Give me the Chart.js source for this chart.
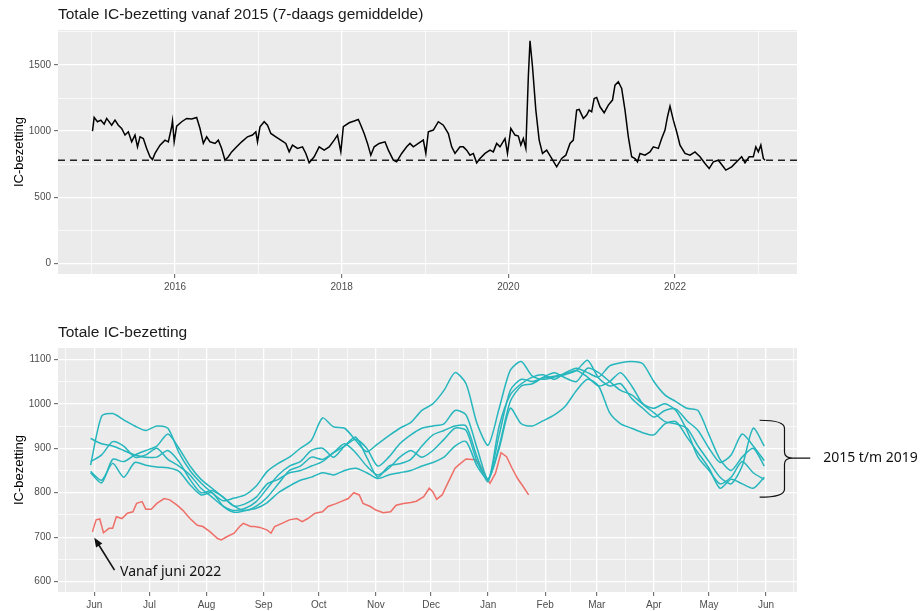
<!DOCTYPE html>
<html>
<head>
<meta charset="utf-8">
<script src="https://cdn.jsdelivr.net/npm/chart.js@4.4.1/dist/chart.umd.min.js"></script>
<style>
  html, body { margin: 0; padding: 0; background: #fff; }
  #wrap { position: relative; width: 923px; height: 611px; overflow: hidden; }
  canvas { position: absolute; left: 0; }
  #histChart { top: 0; }
  #seasonChart { top: 305px; }
</style>
</head>
<body>
<div id="wrap">
  <canvas id="histChart" width="923" height="300"></canvas>
  <canvas id="seasonChart" width="923" height="306"></canvas>
</div>
<script>
// ---------- top chart: 7-day average since 2015 (x in decimal years) ----------
const histYears = [
  2015.01,2015.03,2015.07,2015.11,2015.15,2015.18,2015.24,2015.28,2015.32,2015.36,
  2015.40,2015.44,2015.48,2015.52,2015.55,2015.58,2015.62,2015.66,2015.70,2015.73,
  2015.76,2015.82,2015.88,2015.92,2015.96,2015.97,2015.99,2016.02,2016.08,2016.14,
  2016.20,2016.26,2016.30,2016.34,2016.38,2016.42,2016.48,2016.52,2016.56,2016.60,
  2016.64,2016.68,2016.74,2016.80,2016.87,2016.93,2016.97,2016.99,2017.02,2017.07,
  2017.11,2017.15,2017.21,2017.27,2017.33,2017.37,2017.41,2017.47,2017.53,2017.57,
  2017.61,2017.67,2017.73,2017.79,2017.85,2017.91,2017.95,2017.99,2018.02,2018.09,
  2018.15,2018.20,2018.23,2018.27,2018.31,2018.35,2018.39,2018.45,2018.52,2018.56,
  2018.62,2018.66,2018.72,2018.78,2018.82,2018.86,2018.92,2018.98,2019.01,2019.04,
  2019.10,2019.16,2019.22,2019.28,2019.32,2019.36,2019.42,
  2019.46,2019.50,2019.54,2019.58,2019.62,2019.66,2019.72,2019.78,2019.82,2019.86,
  2019.90,2019.96,2019.99,2020.03,2020.08,2020.12,2020.15,2020.18,2020.21,2020.24,
  2020.26,2020.29,2020.33,2020.37,2020.41,2020.46,2020.52,2020.58,2020.64,2020.69,
  2020.74,2020.78,2020.82,2020.85,2020.90,2020.94,2020.97,2021.00,2021.03,2021.06,
  2021.10,2021.15,2021.20,2021.25,2021.28,2021.32,2021.36,2021.40,2021.44,2021.48,
  2021.52,2021.55,2021.58,2021.64,2021.70,2021.74,2021.80,2021.84,2021.88,2021.91,
  2021.94,2021.98,2022.02,2022.06,2022.12,2022.18,2022.24,2022.30,2022.36,2022.41,
  2022.46,2022.52,2022.58,2022.61,2022.68,2022.74,2022.80,2022.84,2022.89,2022.94,
  2022.97,2023.00,2023.03,2023.06,2023.08
];
const histValues = [
  1000,1103,1071,1083,1053,1096,1045,1083,1045,1020,
  970,995,919,970,881,957,944,869,806,785,
  831,894,932,919,1033,1078,919,1038,1071,1096,
  1091,1103,1020,907,957,919,907,932,869,780,
  806,843,881,919,957,970,995,919,1033,1071,
  1045,982,957,932,907,843,894,869,881,831,
  760,806,881,856,881,932,970,843,1033,1063,
  1076,1088,1045,982,907,818,881,907,919,856,
  780,768,831,881,907,881,907,932,831,995,
  1008,1071,1045,982,881,831,881,
  881,856,818,831,760,793,831,856,843,907,
  881,944,831,1020,970,962,894,944,869,1412,
  1684,1487,1159,932,831,856,793,730,793,818,
  907,932,1159,1164,1096,1121,1159,1146,1247,1255,
  1184,1139,1197,1235,1348,1374,1323,1159,957,806,
  793,768,831,818,843,881,869,944,1008,1109,
  1189,1083,995,894,831,818,843,806,755,717,
  768,780,730,705,730,768,806,760,806,806,
  881,843,894,793,780
];
const baseline = 780;
const yearTicks = [2016, 2018, 2020, 2022];
const yearMinor = [2015, 2017, 2019, 2021, 2023];
const histYTicks = [0, 500, 1000, 1500];
const histYMinor = [250, 750, 1250, 1750];

// ---------- bottom chart: per season, x = days after 1 June ----------
const seasonDays = [
  -2,4,10,16,22,28,34,40,46,52,58,64,70,76,82,88,94,100,106,112,
  118,124,130,136,142,148,154,160,166,172,178,184,190,196,202,208,214,220,226,232,
  238,244,250,256,262,268,274,280,286,292,298,304,310,316,322,328,334,340,346,352,
  358,364
];
const seasonA = [
  862,972,978,964,950,940,950,945,890,850,822,800,782,788,795,815,848,866,880,900,
  918,968,948,945,918,892,910,928,945,958,985,1000,1030,1070,1045,955,907,990,1075,1095,
  1062,1055,1060,1066,1075,1098,1058,1040,1045,1012,990,970,985,988,962,940,900,868,885,932,
  905,872
];
const seasonB = [
  845,822,875,870,885,895,905,932,900,860,830,810,790,770,760,770,790,820,850,860,
  880,875,890,905,920,900,860,880,910,930,945,950,955,985,975,900,830,930,1030,1055,
  1050,1058,1062,1068,1075,1060,1040,1050,1070,1040,1000,980,960,955,945,905,870,835,820,860,
  945,905
];
const seasonC = [
  870,885,915,905,880,885,900,875,860,840,810,790,770,760,765,780,810,840,860,870,
  895,900,880,905,925,880,835,860,865,875,905,930,940,950,950,880,825,950,1020,1045,
  1060,1065,1055,1070,1080,1070,1060,1085,1092,1095,1090,1050,1020,1005,990,985,930,875,850,880,
  900,860
];
const seasonD = [
  922,910,905,895,885,880,880,895,870,830,800,805,790,770,775,790,820,830,845,850,
  860,870,890,910,890,860,840,855,880,895,880,895,920,945,940,870,830,905,1005,1040,
  1045,1060,1070,1058,1050,1080,1070,1050,1030,1020,1000,990,1000,985,940,880,850,820,835,870,
  845,830
];
const seasonE = [
  848,828,866,835,868,862,858,856,848,818,795,800,770,756,760,765,778,800,815,828,
  835,845,840,850,855,845,832,840,845,850,860,868,880,905,915,860,830,900,990,955,
  950,962,975,995,1030,1055,1040,980,955,945,935,930,955,960,925,890,855,810,830,820,
  810,835
];
const recentDays = [
  -1,1,3,5,8,10,12,15,18,21,23,26,28,31,34,38,41,45,48,52,
  56,59,63,67,69,72,76,79,81,85,87,90,94,96,98,102,106,110,113,116,
  120,124,127,131,134,138,141,144,146,150,153,157,161,164,168,172,175,179,182,184,
  186,189,192,196,199,202,207,210,212,215,218,221,224,227,230,233,236
];
const recentValues = [
  712,739,741,710,720,720,746,742,754,757,776,780,763,763,776,787,784,772,761,742,
  727,724,712,697,694,701,709,724,731,724,724,722,716,709,724,731,739,742,735,742,
  754,757,769,775,780,787,800,795,776,769,761,755,757,772,776,778,781,791,810,802,
  785,795,821,855,866,876,874,859,840,821,844,890,881,855,832,814,795
];
const monthTicks = [0,30,61,92,122,153,183,214,245,273,304,334,365];
const monthLabels = ['Jun','Jul','Aug','Sep','Oct','Nov','Dec','Jan','Feb','Mar','Apr','May','Jun'];
const monthMinor = [-15.5,15,45.5,76.5,107,137.5,168,198.5,229.5,259,288.5,319,349.5,380];
const seasonYTicks = [600, 700, 800, 900, 1000, 1100];
const seasonYMinor = [650, 750, 850, 950, 1050];

const FONT = '"Liberation Sans", Arial, sans-serif';
const TEAL = '#26B6BD';
const RED = '#EE6F67';

// grey ggplot-like panel behind the plot area
const panelBg = {
  id: 'panelBg',
  beforeDraw(chart) {
    const { ctx, chartArea: a } = chart;
    ctx.save();
    ctx.fillStyle = '#EBEBEB';
    ctx.fillRect(a.left, a.top, a.width, a.height);
    ctx.restore();
  }
};

// axis with major (labelled) and minor (thin grid only) ticks
function ggAxis(major, minor, labelFn, extra) {
  const all = major.concat(minor).sort((a, b) => a - b);
  const isMajor = c => c.tick && major.includes(c.tick.value);
  return Object.assign({
    type: 'linear',
    afterBuildTicks: s => { s.ticks = all.map(v => ({ value: v })); },
    ticks: {
      autoSkip: false, maxRotation: 0, padding: 3,
      color: '#4D4D4D', font: { family: FONT, size: 10 },
      callback: v => major.includes(v) ? labelFn(v) : ''
    },
    grid: {
      color: '#FFFFFF',
      lineWidth: c => isMajor(c) ? 1.3 : 0.7,
      tickColor: c => isMajor(c) ? '#333333' : 'rgba(0,0,0,0)',
      tickLength: 4,
      tickWidth: 0.8
    },
    border: { display: false }
  }, extra);
}

function yTitle() {
  return { display: true, text: 'IC-bezetting', color: '#000', font: { family: FONT, size: 13 }, padding: { top: 12, bottom: 0 } };
}

function plotTitle(text) {
  return {
    display: true, text, align: 'start', fullSize: false, color: '#1A1A1A',
    font: { family: FONT, size: 15.5, weight: 'normal', lineHeight: '18px' },
    padding: { top: 6, bottom: 6 }
  };
}

const toPoints = (xs, ys) => xs.map((x, i) => ({ x, y: ys[i] }));

// ---------- top chart ----------
const HIST_X_MIN = 2014.596, HIST_X_MAX = 2023.464;
new Chart(document.getElementById('histChart'), {
  type: 'line',
  data: {
    datasets: [
      { data: toPoints(histYears, histValues), borderColor: '#000', borderWidth: 1.5, pointRadius: 0, tension: 0 },
      { data: [{ x: HIST_X_MIN, y: baseline }, { x: HIST_X_MAX, y: baseline }],
        borderColor: '#222', borderWidth: 1.5, borderDash: [7, 5], pointRadius: 0 }
    ]
  },
  options: {
    responsive: false, animation: false, devicePixelRatio: 1,
    layout: { padding: { top: 0, right: 126, left: 0, bottom: 0 } },
    plugins: {
      legend: { display: false }, tooltip: { enabled: false },
      title: plotTitle('Totale IC-bezetting vanaf 2015 (7-daags gemiddelde)')
    },
    scales: {
      x: ggAxis(yearTicks, yearMinor, v => String(v), {
        min: HIST_X_MIN, max: HIST_X_MAX, afterFit: s => { s.height = 26; }
      }),
      y: ggAxis(histYTicks, histYMinor, v => String(v), {
        min: -81, max: 1765, afterFit: s => { s.width = 58; }, title: yTitle()
      })
    }
  },
  plugins: [panelBg]
});

// ---------- bottom chart annotations ----------
const arrowTip = [0, 699], arrowTail = [11, 626], arrowText = [14, 621];
const brace = { end: 361.5, spine: 375, tip: 389, top: 963, mid: 878, bottom: 790, textDay: 396 };

const notes = {
  id: 'notes',
  afterDraw(chart) {
    const { ctx, scales: { x, y } } = chart;
    ctx.save();
    ctx.strokeStyle = '#111';
    ctx.fillStyle = '#111';
    ctx.lineWidth = 1.6;

    // arrow to the start of the 2022 line
    const tx = x.getPixelForValue(arrowTip[0]), ty = y.getPixelForValue(arrowTip[1]);
    const sx = x.getPixelForValue(arrowTail[0]), sy = y.getPixelForValue(arrowTail[1]);
    const ang = Math.atan2(ty - sy, tx - sx);
    ctx.beginPath(); ctx.moveTo(sx, sy); ctx.lineTo(tx - 4 * Math.cos(ang), ty - 4 * Math.sin(ang)); ctx.stroke();
    ctx.beginPath();
    ctx.moveTo(tx, ty);
    ctx.lineTo(tx - 10 * Math.cos(ang - 0.38), ty - 10 * Math.sin(ang - 0.38));
    ctx.lineTo(tx - 10 * Math.cos(ang + 0.38), ty - 10 * Math.sin(ang + 0.38));
    ctx.closePath(); ctx.fill();

    ctx.font = '14px "Noto Sans", "Open Sans", sans-serif';
    ctx.textBaseline = 'middle';
    ctx.textAlign = 'left';
    ctx.fillText('Vanaf juni 2022', x.getPixelForValue(arrowText[0]), y.getPixelForValue(arrowText[1]));

    // curly brace around 2015 t/m 2019
    const x0 = x.getPixelForValue(brace.end), xb = x.getPixelForValue(brace.spine), xt = x.getPixelForValue(brace.tip);
    const yt = y.getPixelForValue(brace.top), ym = y.getPixelForValue(brace.mid), yb = y.getPixelForValue(brace.bottom);
    ctx.lineWidth = 1.2;
    ctx.beginPath();
    ctx.moveTo(x0, yt);
    ctx.quadraticCurveTo(xb, yt, xb, yt + 8);
    ctx.lineTo(xb, ym - 6);
    ctx.quadraticCurveTo(xb, ym, xb + 8, ym);
    ctx.lineTo(xt, ym);
    ctx.moveTo(xb + 8, ym);
    ctx.quadraticCurveTo(xb, ym, xb, ym + 6);
    ctx.lineTo(xb, yb - 8);
    ctx.quadraticCurveTo(xb, yb, x0, yb);
    ctx.stroke();
    ctx.fillText('2015 t/m 2019', x.getPixelForValue(brace.textDay), ym);
    ctx.restore();
  }
};

// ---------- bottom chart ----------
const pastSeasons = [seasonA, seasonB, seasonC, seasonD, seasonE].map(vals => ({
  data: toPoints(seasonDays, vals), borderColor: TEAL, borderWidth: 1.5, pointRadius: 0, tension: 0.25
}));

new Chart(document.getElementById('seasonChart'), {
  type: 'line',
  data: {
    datasets: pastSeasons.concat([
      { data: toPoints(recentDays, recentValues), borderColor: RED, borderWidth: 1.5, pointRadius: 0, tension: 0 }
    ])
  },
  options: {
    responsive: false, animation: false, devicePixelRatio: 1,
    layout: { padding: { top: 13, right: 126, left: 0, bottom: 0 } },
    plugins: {
      legend: { display: false }, tooltip: { enabled: false },
      title: plotTitle('Totale IC-bezetting')
    },
    scales: {
      x: ggAxis(monthTicks, monthMinor, v => monthLabels[monthTicks.indexOf(v)], {
        min: -19.7, max: 381.8, afterFit: s => { s.height = 19; }
      }),
      y: ggAxis(seasonYTicks, seasonYMinor, v => String(v), {
        min: 576.8, max: 1125.4, afterFit: s => { s.width = 58; }, title: yTitle()
      })
    }
  },
  plugins: [panelBg, notes]
});
</script>
</body>
</html>
